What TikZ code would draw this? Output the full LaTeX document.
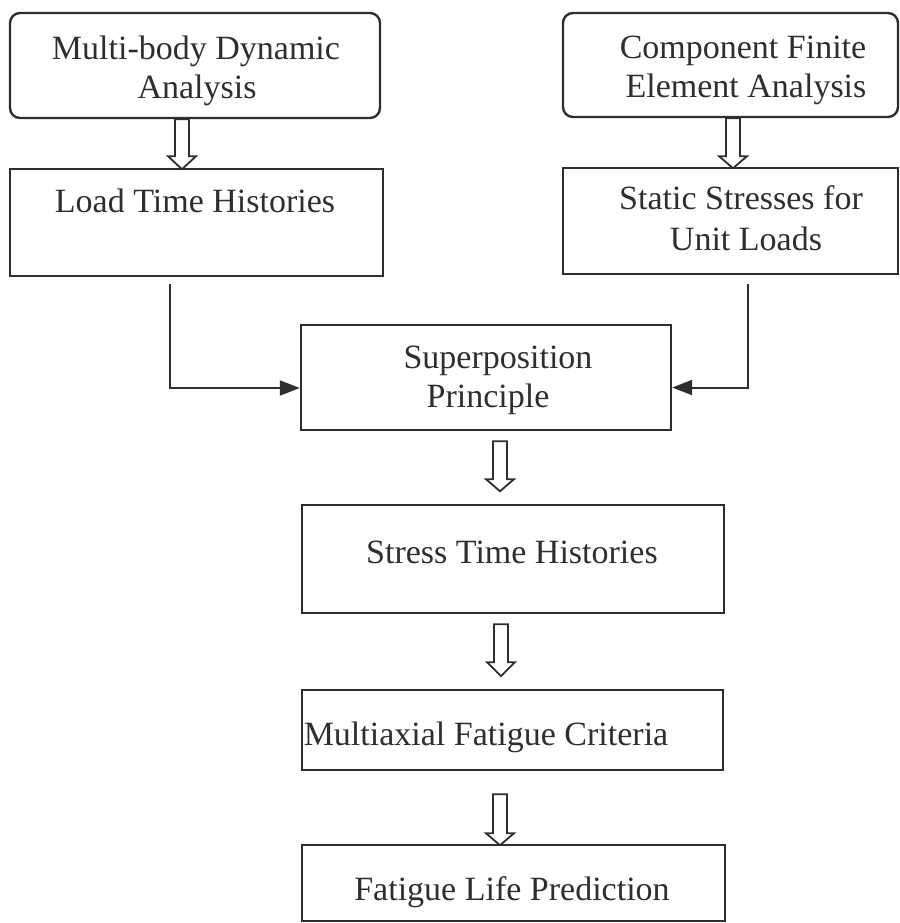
\documentclass[tikz,border=0pt]{standalone}
\usepackage{fontspec}
\setmainfont{Liberation Serif}
\usetikzlibrary{arrows.meta,calc}
\definecolor{ink}{gray}{0.18}
\newcommand\hollowdown[4]{\draw[hollow] (#1) ++(-7,#2) -- ++(0,#3) -- ++(-7,0) -- ++(14,#4) -- ++(14,-#4) -- ++(-7,0) -- ++(0,-#3) -- cycle;}
\begin{document}
\begin{tikzpicture}[x=0.5pt,y=-0.5pt,
  box/.style={draw=ink,line width=1.2pt,inner sep=0pt},
  rbox/.style={box,rounded corners=5pt},
  txt/.style={anchor=base,inner sep=0pt,text=ink,font=\fontsize{17}{20}\selectfont},
  hollow/.style={draw=ink,line width=0.9pt,line join=miter},
  conn/.style={draw=ink,line width=1pt,-{Triangle[length=10pt,width=7.5pt]}}]
\useasboundingbox (0,0) rectangle (900,923);
% boxes
\node[rbox,minimum width=185pt,minimum height=52.5pt] (a) at (195,65.5) {};
\node[box,minimum width=186.5pt,minimum height=53.5pt] (b) at (196.5,222.5) {};
\node[rbox,minimum width=167.5pt,minimum height=52pt] (c) at (730.5,65) {};
\node[box,minimum width=167.5pt,minimum height=53pt] (d) at (730.5,221) {};
\node[box,minimum width=185pt,minimum height=52.5pt] (sp) at (486,377.5) {};
\node[box,minimum width=211pt,minimum height=54pt] (st) at (513,559) {};
\node[box,minimum width=210.5pt,minimum height=40pt] (ma) at (512.5,730) {};
\node[box,minimum width=211.5pt,minimum height=38pt] (fl) at (513.5,883) {};
% texts
\node[txt] (ta1) at (196,59) {Multi-body Dynamic};
\node[txt] (ta2) at (197,98) {Analysis};
\node[txt] (tb) at (195,212) {Load Time Histories};
\node[txt] (tc1) at (743,58) {Component Finite};
\node[txt] (tc2) at (746,97) {Element Analysis};
\node[txt] (td1) at (741,209) {Static Stresses for};
\node[txt] (td2) at (746,250) {Unit Loads};
\node[txt] (tsp1) at (498,368) {Superposition};
\node[txt] (tsp2) at (488,407) {Principle};
\node[txt] (tst) at (512,563) {Stress Time Histories};
\node[txt] (tma) at (486,745) {Multiaxial Fatigue Criteria};
\node[txt] (tfl) at (512,900) {Fatigue Life Prediction};
% hollow arrows
\coordinate (h1) at (182,0);
\coordinate (h2) at (733,0);
\coordinate (h3) at (500,0);
\coordinate (h4) at (501,0);
\coordinate (h5) at (500,0);
\hollowdown{h1 |- a.south}{0}{37}{13}
\hollowdown{h2 |- c.south}{0}{38}{12}
\hollowdown{h3 |- sp.south}{10}{38}{12}
\hollowdown{h4 |- st.south}{10}{38}{14}
\hollowdown{h5 |- ma.south}{23}{39}{12}
% connectors
\coordinate (lx) at (170,0);
\coordinate (rx) at (748,0);
\draw[conn] ($(lx |- b.south)+(0,7)$) |- ($(sp.west)+(0,10.5)$);
\draw[conn] ($(rx |- d.south)+(0,9)$) |- ($(sp.east)+(0,10)$);
\end{tikzpicture}
\end{document}
